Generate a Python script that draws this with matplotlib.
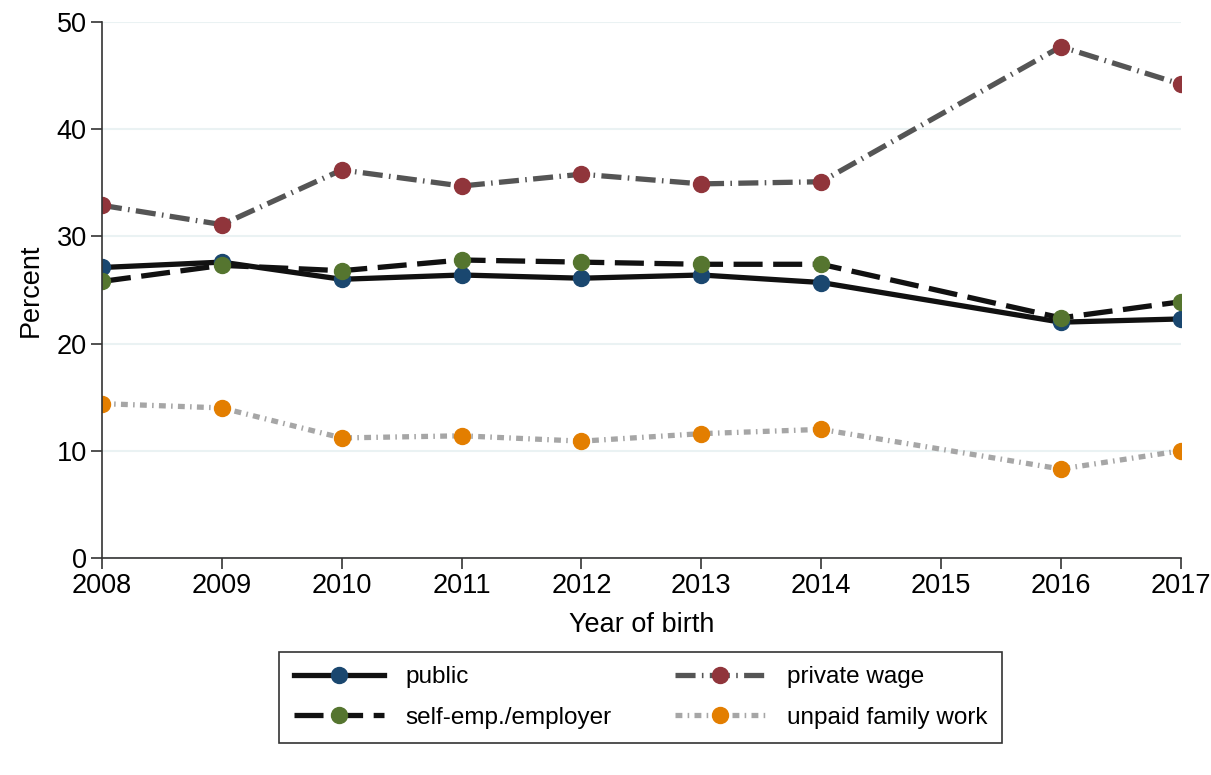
import matplotlib.pyplot as plt

plt.rcParams['font.family'] = ['Liberation Sans', 'DejaVu Sans']

years = [2008, 2009, 2010, 2011, 2012, 2013, 2014, 2016, 2017]
public = [27.1, 27.6, 26.0, 26.4, 26.1, 26.4, 25.7, 22.0, 22.3]
self_emp = [25.8, 27.3, 26.8, 27.8, 27.6, 27.4, 27.4, 22.4, 23.9]
private_wage = [32.9, 31.1, 36.2, 34.7, 35.8, 34.9, 35.1, 47.7, 44.2]
unpaid = [14.4, 14.0, 11.2, 11.4, 10.9, 11.6, 12.0, 8.3, 10.0]
xticks = list(range(2008, 2018))
yticks = [0, 10, 20, 30, 40, 50]

fig = plt.figure(figsize=(12.11, 7.75), dpi=100)
ax = fig.add_axes([0.0842, 0.28, 0.8908, 0.6916])

ms = 11.5
l1, = ax.plot(years, public, color='#111111', lw=3.8, ls='-',
              marker='o', ms=ms, mfc='#1a476f', mec='#1a476f', label='public')
l2, = ax.plot(years, self_emp, color='#111111', lw=3.8, dashes=(5.5, 2.0),
              marker='o', ms=ms, mfc='#55752f', mec='#55752f', label='self-emp./employer')
l3, = ax.plot(years, private_wage, color='#555555', lw=3.8, dashes=(3.8, 1.2, 0.3, 1.2),
              marker='o', ms=ms, mfc='#90353b', mec='#90353b', label='private wage')
l4, = ax.plot(years, unpaid, color='#a6a6a6', lw=3.8, dashes=(1.3, 1.0, 0.3, 1.0),
              marker='o', ms=ms, mfc='#e37e00', mec='#e37e00', label='unpaid family work')

ax.set_xlim(2008, 2017)
ax.set_ylim(0, 50)
ax.set_xticks(xticks)
ax.set_yticks(yticks)
ax.grid(axis='y', color='#eaf2f3', lw=1.5)
ax.set_axisbelow(True)
for s in ['top', 'right']:
    ax.spines[s].set_visible(False)
for s in ['left', 'bottom']:
    ax.spines[s].set_color('#333333')
    ax.spines[s].set_linewidth(1.2)
ax.tick_params(labelsize=19.5, length=8, width=1.2, color='#333333', pad=3)
ax.set_xlabel('Year of birth', fontsize=19.5, labelpad=9)
ax.set_ylabel('Percent', fontsize=19.5, labelpad=9)

leg = fig.legend(handles=[l1, l2, l3, l4], loc='center', ncol=2,
                 bbox_to_anchor=(0.529, 0.1), fontsize=17.5, frameon=True,
                 fancybox=False, edgecolor='black', handlelength=3.7,
                 handletextpad=0.9, columnspacing=2.6, borderpad=0.6,
                 labelspacing=0.75)
leg.get_frame().set_linewidth(1.2)

fig.savefig('out.png', dpi=100)
